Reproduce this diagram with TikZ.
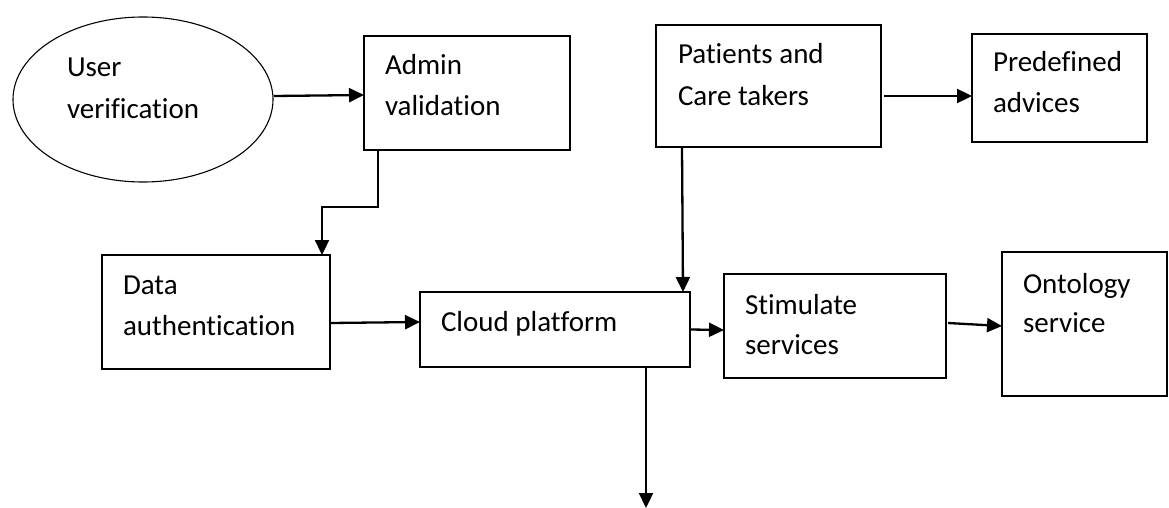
\documentclass[tikz,border=0pt]{standalone}
\usepackage{fontspec}
\setmainfont{Carlito}[Ligatures={NoCommon}]
\usetikzlibrary{arrows.meta,shapes.geometric}
\begin{document}
\begin{tikzpicture}[x=1pt,y=-1pt,
  box/.style={draw,line width=1.3pt,inner sep=0pt,outer sep=0pt},
  lbl/.style={anchor=base west,align=left,inner sep=0pt,outer sep=0pt,
    font=\fontsize{29}{41}\selectfont},
  arr/.style={line width=2.3pt,-{Triangle[length=15pt,width=14pt]}}]
\useasboundingbox (0,0) rectangle (1169,508);
% shapes
\node[draw,ellipse,line width=1.1pt,inner sep=0pt,minimum width=260pt,minimum height=165pt] (uv) at (143,99.5) {};
\node[box,minimum width=206pt,minimum height=114pt] (admin) at (467,93) {};
\node[box,minimum width=225pt,minimum height=122pt] (pc) at (768.5,86) {};
\node[box,minimum width=175pt,minimum height=108pt] (pd) at (1059.5,88) {};
\node[box,minimum width=228pt,minimum height=114pt] (data) at (216,312) {};
\node[box,minimum width=270pt,minimum height=75pt] (cloud) at (555,329.5) {};
\node[box,minimum width=222pt,minimum height=104pt] (st) at (835,326) {};
\node[box,minimum width=165pt,minimum height=144pt] (on) at (1084.5,324) {};
% texts (anchored at the baseline of the last line)
\node[lbl,font=\fontsize{29}{42}\selectfont] (uvt) at (67,119) {User\\verification};
\node[lbl] (admint) at (385,116) {Admin\\validation};
\node[lbl,font=\fontsize{29}{42}\selectfont] (pct) at (678,106) {Patients and\\Care takers};
\node[lbl] (pdt) at (993,113) {Predefined\\advices};
\node[lbl] (datat) at (123,335) {Data\\authentication};
\node[lbl] (cloudt) at (441,331) {Cloud platform};
\node[lbl,font=\fontsize{29}{40}\selectfont] (stt) at (745,354) {Stimulate\\services};
\node[lbl,font=\fontsize{29}{39}\selectfont] (ont) at (1023,332) {Ontology\\service};
% connectors
\coordinate (out) at (646,508);
\draw[arr] ([yshift=3.5pt]uv.east) -- ([yshift=-2pt]admin.west);
\draw[arr] ([xshift=14pt]admin.south west) -- ++(0,57) -| ([xshift=-8pt]data.north east);
\draw[arr] ([xshift=26pt]pc.south west) -- ([xshift=-7pt]cloud.north east);
\draw[arr] ([xshift=3pt,yshift=-10pt]pc.east) -- ([yshift=-8pt]pd.west);
\draw[arr] ([yshift=-11pt]data.east) -- ([yshift=7.5pt]cloud.west);
\draw[arr] (cloud.east) -- ([yshift=-4pt]st.west);
\draw[arr] ([xshift=2pt,yshift=3pt]st.east) -- ([yshift=-2pt]on.west);
\draw[arr] ([xshift=-44pt]cloud.south east) -- (out);
\end{tikzpicture}
\end{document}
